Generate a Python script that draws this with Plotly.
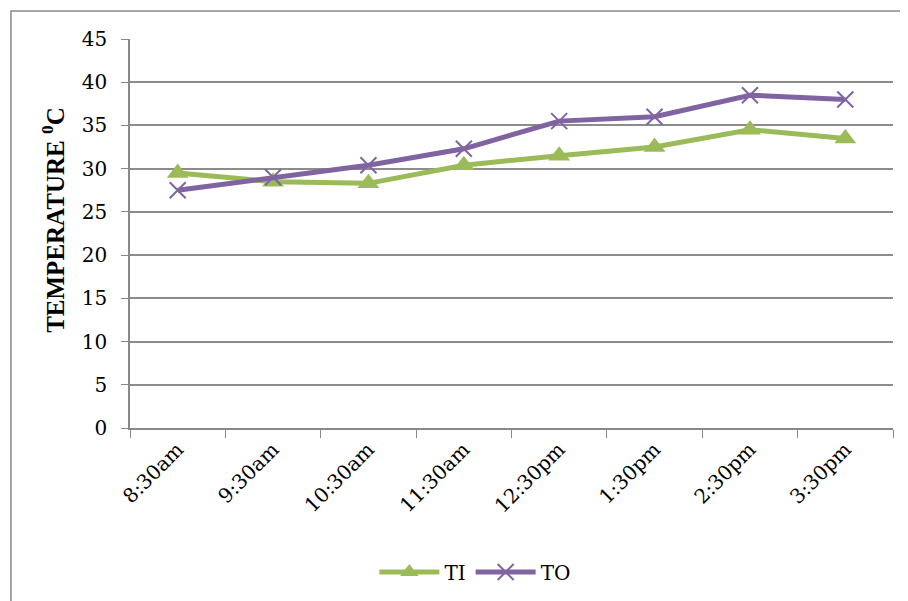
import plotly.graph_objects as go

times = ["8:30am", "9:30am", "10:30am", "11:30am", "12:30pm", "1:30pm", "2:30pm", "3:30pm"]
ti = [29.5, 28.5, 28.3, 30.4, 31.5, 32.5, 34.5, 33.5]
to = [27.5, 29.0, 30.4, 32.3, 35.5, 36.0, 38.5, 38.0]

fig = go.Figure()
fig.add_trace(go.Scatter(
    x=times, y=ti, name="TI", mode="lines+markers",
    line=dict(color="#9BBB59", width=5),
    marker=dict(symbol="triangle-up", size=19, color="#9BBB59"),
))
fig.add_trace(go.Scatter(
    x=times, y=to, name="TO", mode="lines+markers",
    line=dict(color="#8064A2", width=5),
    marker=dict(symbol="x-thin-open", size=16, line=dict(color="#8064A2", width=2)),
))

fig.update_layout(
    width=908, height=601,
    margin=dict(l=122, r=23, t=31, b=181, autoexpand=False),
    paper_bgcolor="white", plot_bgcolor="white",
    font=dict(family="DejaVu Serif, Liberation Serif, serif", size=20, color="black"),
    showlegend=True,
    legend=dict(orientation="h", x=0.452, xanchor="center", y=-0.37, yanchor="middle",
                font=dict(size=20), itemwidth=60),
    xaxis=dict(
        type="category", showgrid=False, showline=True, linecolor="#888888", linewidth=1.5,
        ticks="outside", tickson="boundaries", ticklen=8, tickcolor="#888888",
        tickangle=-45, tickfont=dict(size=20), range=[-0.5, 7.5],
    ),
    yaxis=dict(
        range=[0, 45], dtick=5, showgrid=True, gridcolor="#8c8c8c", gridwidth=1.5,
        showline=True, linecolor="#888888", linewidth=1.5,
        ticks="outside", ticklen=7, tickcolor="#888888", tickfont=dict(size=20),
        ticklabelstandoff=10, zeroline=False,
    ),
    annotations=[dict(
        text="<b>TEMPERATURE <sup>0</sup>C</b>", textangle=-90, showarrow=False,
        xref="paper", yref="paper", x=-0.101, y=0.535, xanchor="center", yanchor="middle",
        font=dict(size=25, family="Liberation Serif, Times New Roman, serif", color="black"),
    )],
    shapes=[dict(type="rect", xref="paper", yref="paper",
                 x0=-0.156, x1=1.04, y0=-0.48, y1=1.072,
                 line=dict(color="#888888", width=1.5), fillcolor="rgba(0,0,0,0)", layer="below")],
)

fig.write_html("out.html")
